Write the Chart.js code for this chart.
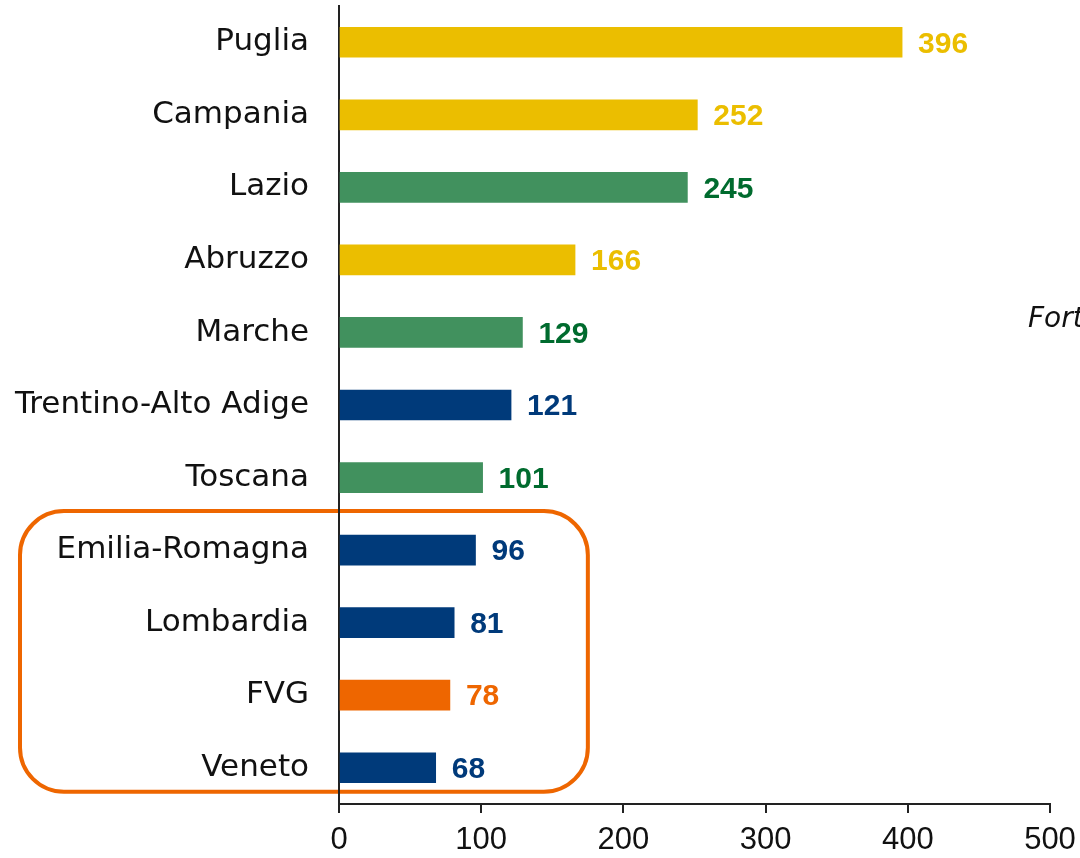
<!DOCTYPE html>
<html>
<head>
<meta charset="utf-8">
<script src="https://cdn.jsdelivr.net/npm/chart.js@4"></script>
<style>
  html, body { margin: 0; padding: 0; background: #fff; }
  #wrap { width: 1080px; height: 858px; position: relative; }
</style>
</head>
<body>
<div id="wrap"><canvas id="chart"></canvas></div>
<script>
const regioni = ["Puglia", "Campania", "Lazio", "Abruzzo", "Marche", "Trentino-Alto Adige",
                 "Toscana", "Emilia-Romagna", "Lombardia", "FVG", "Veneto"];
const valori = [396, 252, 245, 166, 129, 121, 101, 96, 81, 78, 68];
const gruppi = ["giallo", "giallo", "verde", "giallo", "verde", "blu",
                "verde", "blu", "blu", "arancio", "blu"];
const xTicks = [0, 100, 200, 300, 400, 500];

// evidenziate nel riquadro arancione
const evidenza = ["Emilia-Romagna", "Lombardia", "FVG", "Veneto"];

const barColor   = {giallo: "#ebbe00", verde: "#41915e", blu: "#003a7a", arancio: "#ee6600"};
const labelColor = {giallo: "#ebbe00", verde: "#006b2e", blu: "#003a7a", arancio: "#ee6600"};

const catFont = "'DejaVu Sans'";

const valueLabels = {
  id: "valueLabels",
  afterDatasetsDraw(chart) {
    const ctx = chart.ctx;
    const meta = chart.getDatasetMeta(0);
    ctx.save();
    ctx.font = "bold 30px 'Liberation Sans', Arial, sans-serif";
    ctx.textAlign = "left";
    ctx.textBaseline = "middle";
    meta.data.forEach((bar, i) => {
      ctx.fillStyle = labelColor[gruppi[i]];
      ctx.fillText(valori[i], bar.x + 16, bar.y + 2);
    });
    ctx.restore();
  }
};

const box = {
  id: "box",
  beforeDraw(chart) {
    const {ctx, scales: {x, y}} = chart;
    const first = regioni.indexOf(evidenza[0]);
    const last = regioni.indexOf(evidenza[evidenza.length - 1]);
    const left = 20, right = x.getPixelForValue(175);
    const top = y.getPixelForValue(first) - 39;
    const bottom = y.getPixelForValue(last) + 24;
    ctx.save();
    ctx.strokeStyle = "#ee6600";
    ctx.lineWidth = 4;
    ctx.beginPath();
    ctx.roundRect(left, top, right - left, bottom - top, 44);
    ctx.stroke();
    ctx.restore();
  },
  afterDraw(chart) {
    const ctx = chart.ctx;
    ctx.save();
    ctx.font = "oblique 28px " + catFont + ", sans-serif";
    ctx.fillStyle = "#111";
    ctx.textBaseline = "alphabetic";
    ctx.fillText("Fort", 1028, 327);
    ctx.restore();
  }
};

new Chart(document.getElementById("chart"), {
  type: "bar",
  data: {
    labels: regioni,
    datasets: [{
      data: valori,
      backgroundColor: gruppi.map(g => barColor[g]),
      barThickness: 30,
    }],
  },
  options: {
    indexAxis: "y",
    responsive: true,
    maintainAspectRatio: false,
    animation: false,
    layout: {padding: {top: 6, right: 30, left: 0, bottom: 0}},
    plugins: {legend: {display: false}, tooltip: {enabled: false}},
    scales: {
      x: {
        min: 0, max: 500,
        afterFit: s => { s.height = 54; s.paddingLeft = 0; s.paddingRight = 0; },
        afterBuildTicks: s => { s.ticks = xTicks.map(v => ({value: v})); },
        grid: {drawOnChartArea: false, drawTicks: true, tickLength: 9, color: "#222", lineWidth: 2},
        border: {color: "#222", width: 2},
        ticks: {color: "#111", font: {family: "'Liberation Sans', Arial", size: 31}, padding: 9, maxRotation: 0},
      },
      y: {
        afterFit: s => { s.width = 339; s.paddingTop = 0; s.paddingBottom = 0; },
        grid: {display: false},
        border: {color: "#222", width: 2},
        ticks: {color: "#111", font: {family: catFont, size: 31}, padding: 22},
      },
    },
  },
  plugins: [valueLabels, box],
});
</script>
</body>
</html>
